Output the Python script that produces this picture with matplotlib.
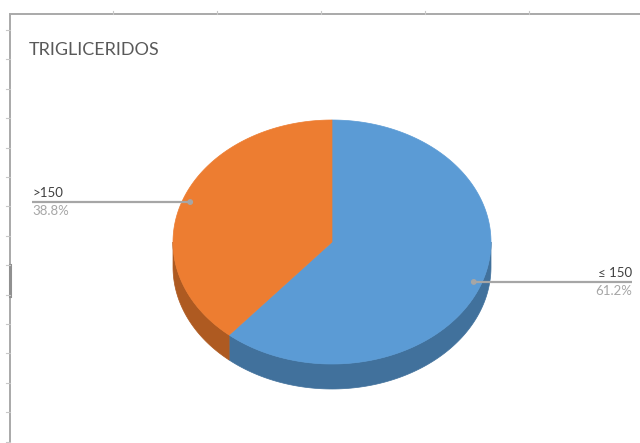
import numpy as np
import matplotlib
matplotlib.use("Agg")
import matplotlib.pyplot as plt
from matplotlib.patches import Polygon, Circle

# Valores del gráfico de triglicéridos
categorias = ["≤ 150", ">150"]
porcentajes = [61.2, 38.8]
colores = ["#5b9bd5", "#ed7d31"]
colores_lado = ["#41719c", "#ae5a21"]

W, H = 640, 443
fig = plt.figure(figsize=(W / 100, H / 100), dpi=100)
ax = fig.add_axes([0, 0, 1, 1])
ax.set_xlim(0, W)
ax.set_ylim(H, 0)
ax.axis("off")

# marco de la hoja (bordes de celda)
gris = "#a9a9a9"
ax.plot([9, W], [14, 14], color=gris, lw=1.4, solid_capstyle="butt")
ax.plot([10, 10], [14, H], color=gris, lw=1.4, solid_capstyle="butt")
ax.plot([9.5, 9.5], [265, 296], color="#909090", lw=2.2)
for y in np.arange(30, H, 29.4):
    ax.plot([6, 10], [y, y], color="#c8c8c8", lw=0.8)
for x in [113, 217, 321, 425, 529]:
    ax.plot([x, x], [11, 14], color="#c8c8c8", lw=0.8)

# título
ax.text(29, 50, "TRIGLICERIDOS", fontsize=13, color="#595959",
        family="Lato", va="center", ha="left")

# pastel 3D: elipse superior + lateral
cx, cy, rx, ry, prof = 332, 242, 159, 122, 25


def punto(ang, r=1.0, dz=0.0):
    a = np.radians(ang)
    return cx + r * rx * np.sin(a), cy - r * ry * np.cos(a) + dz


limites = np.concatenate([[0], np.cumsum(porcentajes) / 100 * 360])

# caras laterales (solo la mitad frontal)
for i in range(len(porcentajes)):
    a0, a1 = max(limites[i], 90), min(limites[i + 1], 270)
    if a1 <= a0:
        continue
    angs = np.linspace(a0, a1, 120)
    sup = [punto(a) for a in angs]
    inf = [punto(a, dz=prof) for a in angs[::-1]]
    ax.add_patch(Polygon(sup + inf, closed=True, fc=colores_lado[i], ec=colores_lado[i], lw=0.5))

# caras superiores
for i in range(len(porcentajes)):
    angs = np.linspace(limites[i], limites[i + 1], 200)
    pts = [(cx, cy)] + [punto(a) for a in angs]
    ax.add_patch(Polygon(pts, closed=True, fc=colores[i], ec=colores[i], lw=0.5))

# etiquetas con líneas guía
for i in range(len(porcentajes)):
    medio = (limites[i] + limites[i + 1]) / 2
    px, py = punto(medio, r=0.95)
    derecha = px > cx
    xfin = 632 if derecha else 32
    ax.plot([px, xfin], [py, py], color="#a6a6a6", lw=1.6, solid_capstyle="butt")
    ax.add_patch(Circle((px, py), 2.2, color="#a6a6a6"))
    ha = "right" if derecha else "left"
    ax.text(xfin, py - 3, categorias[i], fontsize=9.5, color="#404040",
            family="Lato", ha=ha, va="bottom")
    ax.text(xfin, py + 3, f"{porcentajes[i]:.1f}%", fontsize=9.5, color="#a6a6a6",
            family="Lato", ha=ha, va="top")

fig.savefig("out.png", dpi=100)
